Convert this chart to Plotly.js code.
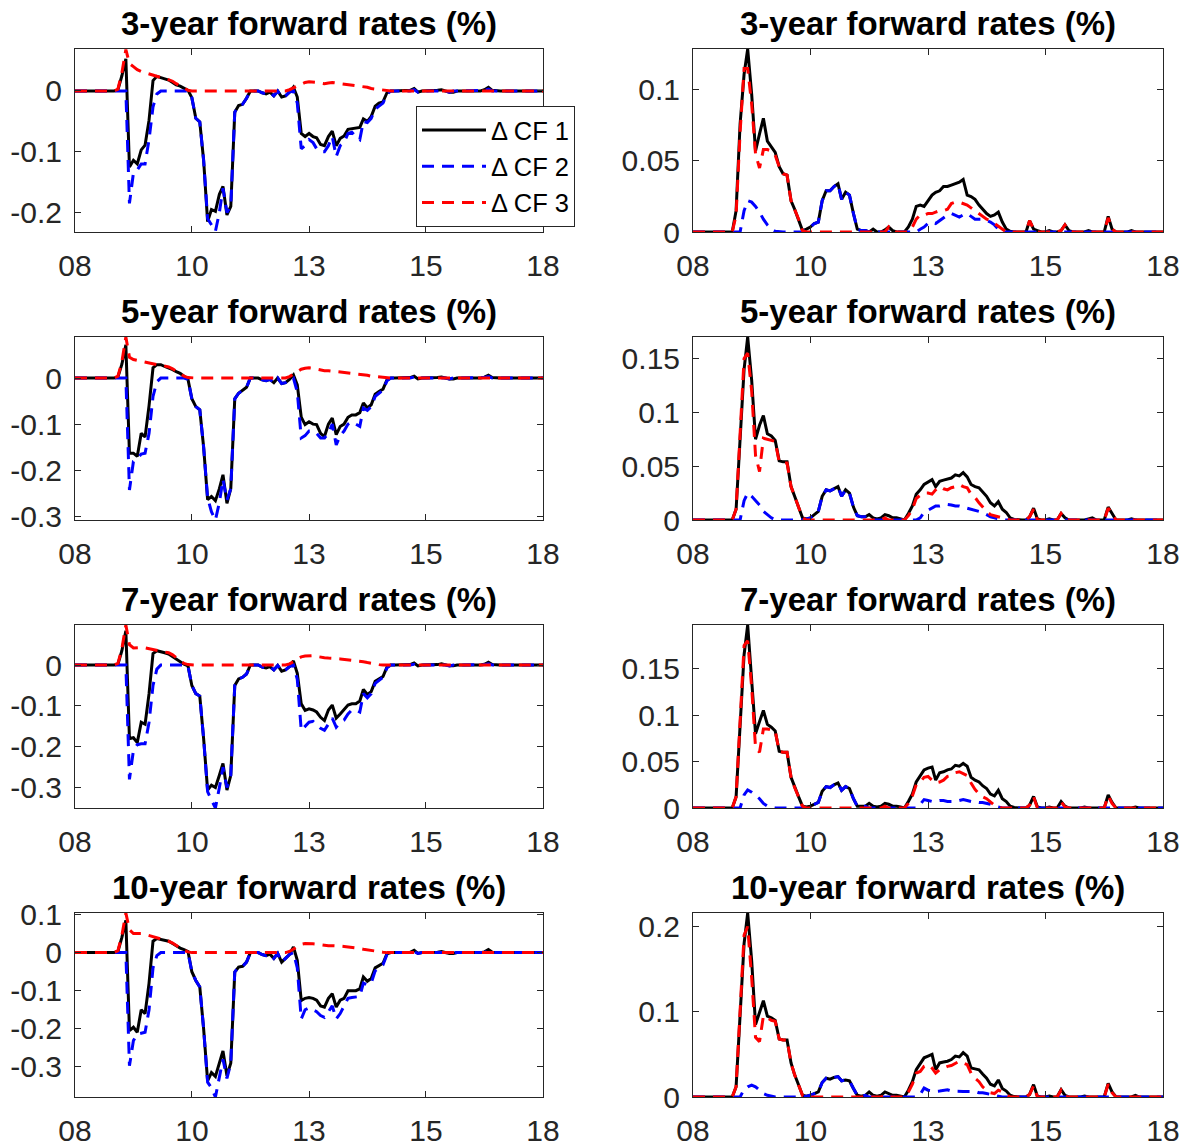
<!DOCTYPE html>
<html><head><meta charset="utf-8">
<script src="https://cdn.plot.ly/plotly-3.0.1.min.js"></script>
<style>html,body{margin:0;padding:0;background:#fff}#chart{width:1197px;height:1147px}</style>
</head><body><div id="chart"></div>
<script>
// ---------------- DATA ----------------
const dates = [
'2008-01','2008-02','2008-03','2008-04','2008-05','2008-06','2008-07','2008-08','2008-09','2008-10','2008-11','2008-12',
'2009-01','2009-02','2009-03','2009-04','2009-05','2009-06','2009-07','2009-08','2009-09','2009-10','2009-11','2009-12',
'2010-01','2010-02','2010-03','2010-04','2010-05','2010-06','2010-07','2010-08','2010-09','2010-10','2010-11','2010-12',
'2011-01','2011-02','2011-03','2011-04','2011-05','2011-06','2011-07','2011-08','2011-09','2011-10','2011-11','2011-12',
'2012-01','2012-02','2012-03','2012-04','2012-05','2012-06','2012-07','2012-08','2012-09','2012-10','2012-11','2012-12',
'2013-01','2013-02','2013-03','2013-04','2013-05','2013-06','2013-07','2013-08','2013-09','2013-10','2013-11','2013-12',
'2014-01','2014-02','2014-03','2014-04','2014-05','2014-06','2014-07','2014-08','2014-09','2014-10','2014-11','2014-12',
'2015-01','2015-02','2015-03','2015-04','2015-05','2015-06','2015-07','2015-08','2015-09','2015-10','2015-11','2015-12',
'2016-01','2016-02','2016-03','2016-04','2016-05','2016-06','2016-07','2016-08','2016-09','2016-10','2016-11','2016-12',
'2017-01','2017-02','2017-03','2017-04','2017-05','2017-06','2017-07','2017-08','2017-09','2017-10','2017-11','2017-12',
'2018-01'];

const xTickVals = ['2008-01-01','2010-07-02','2013-01-01','2015-07-02','2018-01-01'];
const xTickText = ['08','10','13','15','18'];
const seriesNames = ['\u0394 CF 1','\u0394 CF 2','\u0394 CF 3'];
const panelTitles = ['3-year forward rates (%)','5-year forward rates (%)','7-year forward rates (%)','10-year forward rates (%)'];

// ----- left column: 3-year -----
const left3y_cf1 = [
0,0,0,0,-0.001,-0.001,0,0,0,0,0,0.002,
0.025,0.053,-0.125,-0.114,-0.12,-0.097,-0.089,-0.048,0.017,0.024,0.022,0.02,
0.018,0.014,0.01,0.008,0.005,0.001,-0.011,-0.045,-0.051,-0.114,-0.215,-0.195,
-0.198,-0.17,-0.157,-0.204,-0.19,-0.035,-0.024,-0.022,-0.012,0,0,0,
-0.003,-0.005,-0.002,-0.008,0,-0.01,-0.008,-0.002,0.006,-0.01,-0.07,-0.075,
-0.07,-0.075,-0.077,-0.088,-0.09,-0.075,-0.066,-0.09,-0.078,-0.074,-0.063,-0.062,
-0.062,-0.06,-0.046,-0.05,-0.042,-0.025,-0.02,-0.018,-0.003,0,0,0,
0,0,0.001,0.004,-0.002,0,0,0,0,0.001,0.002,0,
-0.002,-0.002,0,0,0,0,0.001,0,0,0.002,0.006,0.001,
0,0,0,0,0,-0.001,-0.001,0,0,0,0,0,
0];
const left3y_cf2 = [
0,0,0,0,0,0,0,0,0,0,0,0,
0,0,-0.185,-0.135,-0.13,-0.12,-0.12,-0.08,-0.026,-0.005,0,0,
0,0,0,0,0,0,-0.011,-0.045,-0.051,-0.114,-0.21,-0.22,
-0.231,-0.2,-0.16,-0.2,-0.19,-0.035,-0.024,-0.022,-0.012,0,0,0,
-0.003,-0.005,-0.002,-0.008,0,-0.01,-0.008,-0.002,0,-0.02,-0.095,-0.09,
-0.08,-0.085,-0.095,-0.1,-0.1,-0.09,-0.075,-0.108,-0.09,-0.085,-0.07,-0.068,
-0.075,-0.08,-0.05,-0.052,-0.045,-0.03,-0.025,-0.02,-0.005,0,0,0,
0,0,0,0.002,-0.002,0,0,0,0,0,0.001,0,
-0.002,0,0,0,0,0,0,0,0,0.001,0.003,0,
0,0,0,0,0,0,0,0,0,0,0,0,
0];
const left3y_cf3 = [
0,0,0,0,0,0,0,0,0,0,0,0.003,
0.03,0.068,0.045,0.04,0.035,0.032,0.03,0.028,0.025,0.023,0.022,0.021,
0.019,0.016,0.012,0.008,0.004,0.001,0,0,0,0,0,0,
0,0,0,0,0,0,0,0,0,0,0,0,
0,0,0,0,0,0,0,0.002,0.005,0.008,0.012,0.014,
0.015,0.015,0.014,0.013,0.012,0.013,0.014,0.013,0.012,0.012,0.011,0.01,
0.009,0.008,0.007,0.006,0.004,0.003,0.002,0.001,0,0,0,0,
0,0,0,0,0,0,0,0,0,0,0,0,
0,0,0,0,0,0,0,0,0,0,0,0,
0,0,0,0,0,0,0,0,0,0,0,0,
0];

// ----- left column: 5-year -----
const left5y_cf1 = [
0,0,0,0,-0.001,-0.001,0,0,0,0,0,0.002,
0.03,0.072,-0.163,-0.163,-0.17,-0.12,-0.128,-0.06,0.022,0.029,0.029,0.025,
0.022,0.018,0.014,0.01,0.004,-0.003,-0.045,-0.062,-0.069,-0.15,-0.264,-0.257,
-0.266,-0.24,-0.21,-0.272,-0.24,-0.045,-0.033,-0.027,-0.02,0,0,0,
-0.004,-0.006,-0.003,-0.01,0,-0.012,-0.01,-0.003,0.007,-0.015,-0.085,-0.101,
-0.095,-0.1,-0.101,-0.12,-0.127,-0.1,-0.087,-0.123,-0.105,-0.1,-0.085,-0.08,
-0.08,-0.075,-0.054,-0.065,-0.058,-0.035,-0.029,-0.024,-0.004,0,0,0,
0,0,0.001,0.004,-0.002,0,0,0,0,0.001,0.002,0,
-0.002,-0.002,0,0,0,0,0.001,0,0,0.002,0.006,0.001,
0,0,0,0,0,-0.001,-0.001,0,0,0,0,0,
0];
const left5y_cf2 = [
0,0,0,0,0,0,0,0,0,0,0,0,
0,0,-0.243,-0.181,-0.175,-0.165,-0.163,-0.12,-0.04,-0.008,0,0,
0,0,0,0,0,-0.003,-0.045,-0.062,-0.069,-0.15,-0.26,-0.29,
-0.308,-0.27,-0.22,-0.265,-0.24,-0.045,-0.033,-0.027,-0.02,0,0,0,
-0.004,-0.006,-0.003,-0.01,0,-0.012,-0.01,-0.003,0,-0.03,-0.13,-0.125,
-0.115,-0.115,-0.12,-0.13,-0.13,-0.12,-0.1,-0.145,-0.125,-0.115,-0.1,-0.095,
-0.1,-0.105,-0.065,-0.07,-0.062,-0.04,-0.033,-0.026,-0.006,0,0,0,
0,0,0,0.002,-0.002,0,0,0,0,0,0.001,0,
-0.002,0,0,0,0,0,0,0,0,0.001,0.003,0,
0,0,0,0,0,0,0,0,0,0,0,0,
0];
const left5y_cf3 = [
0,0,0,0,0,0,0,0,0,0,0,0.004,
0.035,0.089,0.045,0.04,0.038,0.036,0.035,0.033,0.031,0.029,0.028,0.026,
0.024,0.02,0.015,0.009,0.004,0.001,0,0,0,0,0,0,
0,0,0,0,0,0,0,0,0,0,0,0,
0,0,0,0,0,0,0,0.003,0.008,0.014,0.019,0.021,
0.022,0.021,0.019,0.017,0.016,0.016,0.015,0.0145,0.014,0.013,0.012,0.011,
0.01,0.009,0.007,0.006,0.004,0.003,0.002,0.001,0,0,0,0,
0,0,0,0,0,0,0,0,0,0,0,0,
0,0,0,0,0,0,0,0,0,0,0,0,
0,0,0,0,0,0,0,0,0,0,0,0,
0];

// ----- left column: 7-year -----
const left7y_cf1 = [
0,0,0,0,-0.001,-0.001,0,0,0,0,0,0.002,
0.035,0.084,-0.18,-0.178,-0.19,-0.14,-0.145,-0.07,0.028,0.035,0.033,0.03,
0.027,0.02,0.015,0.008,0.002,-0.002,-0.05,-0.07,-0.076,-0.18,-0.306,-0.294,
-0.3,-0.27,-0.241,-0.306,-0.27,-0.05,-0.034,-0.03,-0.022,0,0,0,
-0.005,-0.007,-0.004,-0.012,-0.001,-0.015,-0.012,-0.004,0.01,-0.02,-0.095,-0.111,
-0.107,-0.11,-0.115,-0.128,-0.136,-0.11,-0.098,-0.13,-0.12,-0.11,-0.098,-0.095,
-0.095,-0.088,-0.06,-0.072,-0.065,-0.04,-0.034,-0.028,-0.005,0,0,0,
0,0,0.001,0.005,-0.002,0,0,0,0,0.001,0.003,0,
-0.002,-0.002,0,0,0,0,0.001,0,0,0.002,0.007,0.001,
0,0,0,0,0,-0.001,-0.001,0,0,0,0,0,
0];
const left7y_cf2 = [
0,0,0,0,0,0,0,0,0,0,0,0,
0,0,-0.28,-0.209,-0.195,-0.193,-0.193,-0.14,-0.05,-0.01,0,0,
0,0,0,0,0,-0.002,-0.05,-0.07,-0.076,-0.18,-0.31,-0.33,
-0.35,-0.3,-0.25,-0.3,-0.27,-0.05,-0.034,-0.03,-0.022,0,0,0,
-0.005,-0.007,-0.004,-0.012,-0.001,-0.015,-0.012,-0.004,0,-0.035,-0.16,-0.15,
-0.14,-0.138,-0.145,-0.155,-0.16,-0.145,-0.13,-0.152,-0.14,-0.135,-0.12,-0.11,
-0.11,-0.115,-0.07,-0.08,-0.07,-0.045,-0.038,-0.03,-0.007,0,0,0,
0,0,0,0.002,-0.002,0,0,0,0,0,0.001,0,
-0.002,0,0,0,0,0,0,0,0,0.001,0.003,0,
0,0,0,0,0,0,0,0,0,0,0,0,
0];
const left7y_cf3 = [
0,0,0,0,0,0,0,0,0,0,0,0.004,
0.04,0.098,0.05,0.042,0.043,0.043,0.042,0.04,0.037,0.035,0.033,0.032,
0.03,0.025,0.018,0.01,0.004,0.001,0,0,0,0,0,0,
0,0,0,0,0,0,0,0,0,0,0,0,
0,0,0,0,0,0,0,0.003,0.008,0.015,0.02,0.022,
0.023,0.023,0.021,0.019,0.018,0.017,0.017,0.016,0.015,0.014,0.013,0.012,
0.011,0.01,0.008,0.006,0.004,0.003,0.001,0,0,0,0,0,
0,0,0,0,0,0,0,0,0,0,0,0,
0,0,0,0,0,0,0,0,0,0,0,0,
0,0,0,0,0,0,0,0,0,0,0,0,
0];

// ----- left column: 10-year -----
const left10y_cf1 = [
0,0,0,0,-0.001,-0.001,0,0,0,0,0,0.003,
0.04,0.085,-0.205,-0.196,-0.209,-0.15,-0.16,-0.08,0.03,0.037,0.035,0.033,
0.03,0.024,0.018,0.012,0.008,0.003,-0.05,-0.073,-0.09,-0.2,-0.337,-0.315,
-0.325,-0.29,-0.258,-0.323,-0.29,-0.051,-0.038,-0.036,-0.025,0,0,0,
-0.005,-0.008,-0.004,-0.015,-0.002,-0.025,-0.015,-0.005,0.015,-0.02,-0.126,-0.12,
-0.118,-0.12,-0.125,-0.14,-0.143,-0.12,-0.108,-0.143,-0.125,-0.12,-0.1,-0.1,
-0.1,-0.095,-0.064,-0.075,-0.068,-0.04,-0.033,-0.028,-0.003,0,0,0,
0,0,0.001,0.006,-0.002,0,0,0,0,0.001,0.003,0,
-0.002,-0.002,0,0,0,0,0.001,0,0,0.002,0.008,0.001,
0,0,0,0,0,-0.001,-0.001,0,0,0,0,0,
0];
const left10y_cf2 = [
0,0,0,0,0,0,0,0,0,0,0,0,
0,0,-0.297,-0.231,-0.214,-0.212,-0.209,-0.15,-0.04,-0.008,0,0,
0,0,0,0,0,0,-0.05,-0.073,-0.09,-0.2,-0.34,-0.355,
-0.379,-0.33,-0.28,-0.33,-0.29,-0.051,-0.038,-0.036,-0.025,0,0,0,
-0.005,-0.008,-0.004,-0.015,-0.002,-0.025,-0.015,-0.005,0,-0.04,-0.174,-0.15,
-0.145,-0.15,-0.155,-0.165,-0.17,-0.155,-0.14,-0.174,-0.16,-0.14,-0.12,-0.118,
-0.117,-0.115,-0.08,-0.085,-0.08,-0.048,-0.04,-0.032,-0.005,0,0,0,
0,0,0,0.002,-0.002,0,0,0,0,0,0.001,0,
-0.002,0,0,0,0,0,0,0,0,0.001,0.003,0,
0,0,0,0,0,0,0,0,0,0,0,0,
0];
const left10y_cf3 = [
0,0,0,0,0,0,0,0,0,0,0,0.005,
0.045,0.104,0.06,0.05,0.05,0.05,0.048,0.045,0.04,0.037,0.035,0.033,
0.03,0.025,0.019,0.012,0.006,0.002,0,0,0,0,0,0,
0,0,0,0,0,0,0,0,0,0,0,0,
0,0,0,0,0,0,0,0.003,0.01,0.017,0.022,0.024,
0.024,0.023,0.022,0.02,0.019,0.018,0.018,0.018,0.017,0.016,0.015,0.014,
0.013,0.011,0.009,0.007,0.005,0.003,0.002,0.001,0,0,0,0,
0,0,0,0,0,0,0,0,0,0,0,0,
0,0,0,0,0,0,0,0,0,0,0,0,
0,0,0,0,0,0,0,0,0,0,0,0,
0];

// ----- right column: 3-year -----
const right3y_cf1 = [
0,0,0,0,0,0,0,0,0,0,0,0.015,
0.076,0.111,0.1288,0.097,0.057,0.069,0.08,0.064,0.06,0.056,0.046,0.041,
0.04,0.022,0.016,0.009,0.001,0.002,0.0035,0.006,0.007,0.022,0.029,0.029,
0.032,0.034,0.023,0.028,0.026,0.013,0.002,0.001,0.001,0,0.002,0,
0,0.0015,0.0035,0.001,0,0,0,0.0035,0.009,0.018,0.019,0.018,
0.022,0.026,0.028,0.029,0.032,0.032,0.033,0.034,0.035,0.037,0.026,0.025,
0.023,0.019,0.016,0.013,0.011,0.012,0.014,0.007,0.002,0.0005,0,0,
0,0,0.008,0.002,0.001,0,0,0.001,0,0,0.001,0.005,
0.001,0,0,0,0,0.001,0,0,0,0,0.011,0.002,
0,0,0,0,0.001,0,0,0,0,0,0,0,
0];
const right3y_cf2 = [
0,0,0,0,0,0,0,0,0,0,0,0,
0,0.015,0.022,0.021,0.018,0.014,0.009,0.005,0.002,0.0005,0,0,
0,0,0,0,0,0.002,0.0035,0.006,0.007,0.022,0.029,0.029,
0.032,0.034,0.023,0.028,0.026,0.013,0.002,0.001,0.001,0,0,0,
0,0,0,0,0,0,0,0,0,0,0.002,0.0035,
0.006,0.007,0.006,0.008,0.0105,0.012,0.013,0.012,0.0105,0.012,0.013,0.011,
0.009,0.009,0.009,0.008,0.007,0.005,0.002,0,0,0,0,0,
0,0,0,0,0,0,0,0,0,0,0,0,
0,0,0,0,0,0,0,0,0,0,0,0,
0,0,0,0,0,0,0,0,0,0,0,0,
0];
const right3y_cf3 = [
0,0,0,0,0,0,0,0,0,0,0,0.012,
0.07,0.115,0.115,0.09,0.055,0.045,0.058,0.058,0.057,0.054,0.046,0.041,
0.04,0.022,0.016,0.009,0.001,0,0,0,0,0,0,0,
0,0,0,0,0,0,0,0,0,0,0,0,
0,0,0.0035,0,0,0,0,0,0.0035,0.009,0.012,0.012,
0.013,0.013,0.014,0.015,0.015,0.016,0.02,0.021,0.021,0.02,0.019,0.017,
0.015,0.013,0.011,0.009,0.008,0.006,0.004,0.002,0,0,0,0,
0,0,0.008,0.002,0,0,0,0,0,0,0.001,0.005,
0.001,0,0,0,0,0,0,0,0,0,0.01,0.002,
0,0,0,0,0,0,0,0,0,0,0,0,
0];

// ----- right column: 5-year -----
const right5y_cf1 = [
0,0,0,0,0,0,0,0,0,0,0,0.01,
0.08,0.14,0.17,0.13,0.075,0.088,0.097,0.08,0.078,0.074,0.055,0.054,
0.054,0.031,0.022,0.012,0.002,0.001,0.002,0.005,0.008,0.022,0.028,0.027,
0.029,0.031,0.022,0.028,0.025,0.012,0.004,0.003,0.003,0.005,0.002,0.001,
0.002,0.005,0.004,0.002,0.002,0.001,0,0.006,0.013,0.024,0.028,0.033,
0.035,0.0375,0.031,0.036,0.037,0.038,0.039,0.042,0.041,0.044,0.04,0.033,
0.031,0.03,0.026,0.022,0.016,0.013,0.017,0.01,0.007,0.002,0.0005,0,
0,0,0.003,0.011,0.001,0,0,0.001,0,0,0.006,0.002,
0,0,0,0,0,0.001,0.002,0,0,0,0.012,0.006,
0,0,0,0,0.001,0,0,0,0,0,0,0,
0];
const right5y_cf2 = [
0,0,0,0,0,0,0,0,0,0,0,0,
0,0.018,0.025,0.022,0.018,0.014,0.008,0.005,0.002,0,0,0,
0,0,0,0,0,0.001,0.002,0.005,0.008,0.022,0.028,0.027,
0.029,0.031,0.022,0.028,0.025,0.012,0.004,0.003,0.003,0,0,0,
0,0,0,0,0,0,0,0,0,0,0.002,0.007,
0.009,0.011,0.013,0.013,0.014,0.0145,0.014,0.013,0.013,0.012,0.011,0.01,
0.009,0.008,0.007,0.005,0.003,0.002,0.001,0,0,0,0,0,
0,0,0,0,0,0,0,0,0,0,0,0,
0,0,0,0,0,0,0,0,0,0,0,0,
0,0,0,0,0,0,0,0,0,0,0,0,
0];
const right5y_cf3 = [
0,0,0,0,0,0,0,0,0,0,0,0.01,
0.08,0.15,0.155,0.12,0.06,0.045,0.076,0.075,0.074,0.073,0.054,0.053,
0.053,0.031,0.022,0.012,0.002,0,0,0,0,0,0,0,
0,0,0,0,0,0,0,0,0,0,0,0,
0,0.002,0,0,0,0,0,0.004,0.01,0.02,0.023,0.025,
0.025,0.024,0.028,0.031,0.029,0.028,0.03,0.031,0.033,0.031,0.03,0.024,
0.021,0.016,0.012,0.008,0.005,0.004,0.003,0.002,0.001,0,0,0,
0,0,0.003,0.01,0,0,0,0,0,0,0.006,0.001,
0,0,0,0,0,0,0,0,0,0,0.011,0.005,
0,0,0,0,0,0,0,0,0,0,0,0,
0];

// ----- right column: 7-year -----
const right7y_cf1 = [
0,0,0,0,0,0,0,0,0,0,0,0.012,
0.09,0.165,0.197,0.14,0.08,0.093,0.105,0.09,0.087,0.083,0.061,0.06,
0.06,0.033,0.022,0.012,0.002,0.001,0.002,0.004,0.006,0.018,0.023,0.022,
0.025,0.027,0.019,0.023,0.021,0.01,0.002,0.002,0.002,0.005,0.002,0.001,
0.002,0.005,0.004,0.002,0.002,0.001,0,0.007,0.015,0.028,0.034,0.041,
0.043,0.044,0.03,0.038,0.039,0.041,0.042,0.046,0.045,0.048,0.045,0.033,
0.03,0.028,0.024,0.021,0.015,0.013,0.019,0.01,0.007,0.002,0.0005,0,
0,0,0.003,0.0125,0.001,0,0,0.001,0,0,0.007,0.002,
0,0,0,0,0.001,0,0,0,0,0,0.014,0.006,
0,0,0,0,0,0.001,0,0,0,0,0,0,
0];
const right7y_cf2 = [
0,0,0,0,0,0,0,0,0,0,0,0,
0,0.014,0.0195,0.017,0.014,0.01,0.005,0.002,0.001,0,0,0,
0,0,0,0,0,0.001,0.002,0.004,0.006,0.018,0.023,0.022,
0.025,0.027,0.019,0.023,0.021,0.01,0.002,0.002,0.002,0,0,0,
0,0,0,0,0,0,0,0,0,0,0.004,0.009,
0.008,0.007,0.007,0.008,0.008,0.007,0.007,0.007,0.008,0.009,0.008,0.007,
0.007,0.006,0.006,0.005,0.004,0.002,0.001,0,0,0,0,0,
0,0,0,0,0,0,0,0,0,0,0,0,
0,0,0,0,0,0,0,0,0,0,0,0,
0,0,0,0,0,0,0,0,0,0,0,0,
0];
const right7y_cf3 = [
0,0,0,0,0,0,0,0,0,0,0,0.012,
0.09,0.175,0.18,0.13,0.065,0.06,0.085,0.085,0.084,0.083,0.061,0.06,
0.06,0.033,0.022,0.012,0.002,0,0,0,0,0,0,0,
0,0,0,0,0,0,0,0,0,0,0,0,
0,0.002,0,0,0,0,0,0.005,0.013,0.025,0.028,0.033,
0.034,0.03,0.027,0.028,0.03,0.034,0.035,0.038,0.039,0.037,0.035,0.027,
0.02,0.015,0.012,0.01,0.007,0.003,0.001,0,0,0,0,0,
0,0,0.003,0.012,0,0,0,0,0,0,0.007,0.001,
0,0,0,0,0,0,0,0,0,0,0.013,0.005,
0,0,0,0,0,0,0,0,0,0,0,0,
0];

// ----- right column: 10-year -----
const right10y_cf1 = [
0,0,0,0,0,0,0,0,0,0,0,0.012,
0.1,0.18,0.216,0.16,0.085,0.1,0.113,0.095,0.093,0.09,0.068,0.067,
0.067,0.04,0.026,0.014,0.002,0.001,0.002,0.004,0.006,0.017,0.022,0.021,
0.023,0.024,0.019,0.02,0.019,0.01,0.002,0.001,0.002,0.006,0.002,0.001,
0.002,0.006,0.004,0.002,0.002,0.001,0,0.008,0.018,0.032,0.04,0.046,
0.048,0.05,0.032,0.04,0.041,0.042,0.044,0.048,0.047,0.052,0.048,0.034,
0.033,0.032,0.027,0.022,0.015,0.013,0.02,0.01,0.007,0.002,0.0005,0,
0,0,0.003,0.0145,0.001,0,0,0.001,0,0,0.0086,0.002,
0,0,0,0,0.001,0,0,0,0,0,0.016,0.006,
0,0,0,0,0,0.002,0,0,0,0,0,0,
0];
const right10y_cf2 = [
0,0,0,0,0,0,0,0,0,0,0,0,
0,0.009,0.012,0.014,0.012,0.008,0.004,0.002,0.001,0,0,0,
0,0,0,0,0,0.001,0.002,0.004,0.006,0.017,0.022,0.021,
0.023,0.024,0.019,0.02,0.019,0.01,0.002,0.001,0.002,0,0,0,
0,0,0,0,0,0,0,0,0,0,0.003,0.0105,
0.008,0.007,0.0066,0.007,0.008,0.0085,0.007,0.0066,0.007,0.0066,0.0066,0.0066,
0.0066,0.005,0.005,0.004,0.003,0.002,0.001,0,0,0,0,0,
0,0,0,0,0,0,0,0,0,0,0,0,
0,0,0,0,0,0,0,0,0,0,0,0,
0,0,0,0,0,0,0,0,0,0,0,0,
0];
const right10y_cf3 = [
0,0,0,0,0,0,0,0,0,0,0,0.012,
0.1,0.19,0.2,0.14,0.07,0.065,0.095,0.093,0.09,0.089,0.068,0.067,
0.067,0.04,0.026,0.014,0.002,0,0,0,0,0,0,0,
0,0,0,0,0,0,0,0,0,0,0,0,
0,0.002,0,0,0,0,0,0.006,0.015,0.028,0.03,0.036,
0.038,0.034,0.028,0.032,0.034,0.036,0.037,0.04,0.042,0.04,0.038,0.028,
0.022,0.018,0.012,0.008,0.005,0.004,0.008,0.006,0.003,0,0,0,
0,0,0.003,0.013,0,0,0,0,0,0,0.008,0.001,
0,0,0,0,0,0,0,0,0,0,0.015,0.005,
0,0,0,0,0,0,0,0,0,0,0,0,
0];

// y-axis ranges and ticks
const leftRanges  = [[-0.232,0.069],[-0.308,0.089],[-0.35,0.098],[-0.379,0.104]];
const rightRanges = [[0,0.1288],[0,0.17],[0,0.197],[0,0.216]];
const leftTickVals  = [[-0.2,-0.1,0],[-0.3,-0.2,-0.1,0],[-0.3,-0.2,-0.1,0],[-0.3,-0.2,-0.1,0,0.1]];
const leftTickText  = [['-0.2','-0.1','0'],['-0.3','-0.2','-0.1','0'],['-0.3','-0.2','-0.1','0'],['-0.3','-0.2','-0.1','0','0.1']];
const rightTickVals = [[0,0.05,0.1],[0,0.05,0.1,0.15],[0,0.05,0.1,0.15],[0,0.1,0.2]];
const rightTickText = [['0','0.05','0.1'],['0','0.05','0.1','0.15'],['0','0.05','0.1','0.15'],['0','0.1','0.2']];

const leftSeries  = [[left3y_cf1,left3y_cf2,left3y_cf3],[left5y_cf1,left5y_cf2,left5y_cf3],[left7y_cf1,left7y_cf2,left7y_cf3],[left10y_cf1,left10y_cf2,left10y_cf3]];
const rightSeries = [[right3y_cf1,right3y_cf2,right3y_cf3],[right5y_cf1,right5y_cf2,right5y_cf3],[right7y_cf1,right7y_cf2,right7y_cf3],[right10y_cf1,right10y_cf2,right10y_cf3]];

// ---------------- LAYOUT ----------------
const W = 1197, H = 1147;
const colPx = [[75,543],[693,1163]];
const rowPx = [[49,232],[337,520],[625,808],[913,1097]];
const lineStyles = [
  {color:'#000000', width:3, dash:'solid'},
  {color:'#0000FF', width:3, dash:'12px,8px'},
  {color:'#FF0000', width:3, dash:'12px,8px'}
];
const axisColor = '#262626';
const FONT = 'Liberation Sans, Arial, Helvetica, sans-serif';

const traces = [];
const layout = {
  width: W, height: H,
  margin: {l:0, r:0, t:0, b:0},
  paper_bgcolor: '#ffffff', plot_bgcolor: '#ffffff',
  font: {family: FONT, color: axisColor},
  showlegend: true,
  legend: {
    x: 416/W, y: 1 - 106/H, xanchor: 'left', yanchor: 'top',
    bgcolor: '#ffffff', bordercolor: axisColor, borderwidth: 1,
    font: {family: FONT, size: 25.5, color: '#000000'},
    itemwidth: 64, tracegroupgap: 0,
    entrywidth: 166, entrywidthmode: 'pixels'
  },
  annotations: []
};

let n = 0;
for (let r = 0; r < 4; r++) {
  for (let c = 0; c < 2; c++) {
    n++;
    const xa = 'xaxis' + (n === 1 ? '' : n), ya = 'yaxis' + (n === 1 ? '' : n);
    const xr = 'x' + (n === 1 ? '' : n), yr = 'y' + (n === 1 ? '' : n);
    const data = c === 0 ? leftSeries[r] : rightSeries[r];
    for (let s = 0; s < 3; s++) {
      traces.push({
        type: 'scatter', mode: 'lines', x: dates, y: data[s],
        xaxis: xr, yaxis: yr, name: seriesNames[s],
        line: lineStyles[s], showlegend: n === 1, hoverinfo: 'skip'
      });
    }
    const common = {
      showline: true, mirror: 'ticks', linecolor: axisColor, linewidth: 1,
      ticks: 'inside', ticklen: 6, tickwidth: 1, tickcolor: axisColor,
      showgrid: false, zeroline: false, fixedrange: true,
      tickfont: {family: FONT, size: 30, color: axisColor}
    };
    layout[xa] = Object.assign({}, common, {
      type: 'date', anchor: yr,
      domain: [colPx[c][0]/W, colPx[c][1]/W],
      range: ['2008-01-01','2018-01-01'],
      tickmode: 'array', tickvals: xTickVals, ticktext: xTickText,
      ticklabelstandoff: 7
    });
    layout[ya] = Object.assign({}, common, {
      anchor: xr,
      domain: [1 - rowPx[r][1]/H, 1 - rowPx[r][0]/H],
      range: c === 0 ? leftRanges[r] : rightRanges[r],
      tickmode: 'array',
      tickvals: c === 0 ? leftTickVals[r] : rightTickVals[r],
      ticktext: c === 0 ? leftTickText[r] : rightTickText[r],
      ticklabelstandoff: 6
    });
    layout.annotations.push({
      xref: 'paper', yref: 'paper',
      x: (colPx[c][0] + colPx[c][1]) / 2 / W, y: 1 - rowPx[r][0]/H,
      xanchor: 'center', yanchor: 'bottom', yshift: 5, showarrow: false,
      text: '<b>' + panelTitles[r] + '</b>',
      font: {family: FONT, size: 33, color: '#000000'}
    });
  }
}

Plotly.newPlot('chart', traces, layout, {staticPlot: true, displayModeBar: false});
</script>
</body></html>
